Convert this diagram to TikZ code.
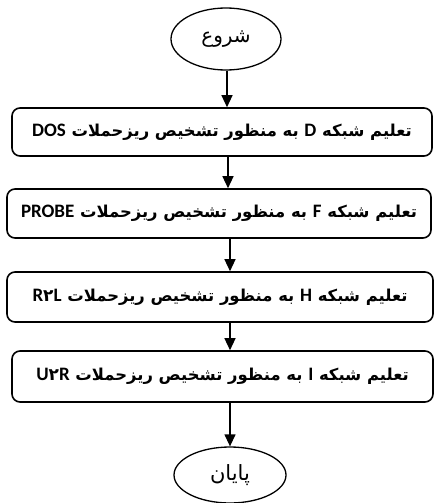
\documentclass[tikz,border=0pt]{standalone}
\usepackage{fontspec}
\usetikzlibrary{arrows.meta,shapes.geometric}
\TeXXeTstate=1
\newfontfamily\fa[Script=Arabic]{DejaVu Sans}
\newfontfamily\lat{Carlito}
\newcommand{\fatxt}[1]{\fa\beginR #1\endR}
\newcommand{\la}[1]{\beginL{\lat\bfseries\fontsize{19}{20}\selectfont #1}\endL}
\newcommand{\fdig}{{\fa\bfseries\fontsize{17}{18}\selectfont ۲}}
\tikzset{
  term/.style={draw, line width=1.3pt, ellipse, inner sep=0pt, font=\fontsize{20}{22}\selectfont},
  stepbox/.style={draw, line width=1.6pt, rounded corners=8pt, inner sep=0pt, font=\fontsize{16.4}{20}\selectfont\bfseries},
  arr/.style={line width=1.3pt, -{Triangle[width=11pt,length=12pt]}}
}
\begin{document}
\begin{tikzpicture}[x=1pt,y=-1pt]
\useasboundingbox (0,0) rectangle (434,503);
\node[term, minimum width=110pt, minimum height=62pt] (start) at (226,39) {\fatxt{شروع}};
\node[stepbox, minimum width=420pt, minimum height=48pt] (b1) at (222,132) {\fatxt{تعلیم شبکه \la{D} به منظور تشخیص ریزحملات \la{DOS}}};
\node[stepbox, minimum width=424pt, minimum height=49pt] (b2) at (219,213.5) {\fatxt{تعلیم شبکه \la{F} به منظور تشخیص ریزحملات \la{PROBE}}};
\node[stepbox, minimum width=426pt, minimum height=50pt] (b3) at (220,297) {\fatxt{تعلیم شبکه \la{H} به منظور تشخیص ریزحملات \beginL\la{R}\fdig\la{L}\endL}};
\node[stepbox, minimum width=421pt, minimum height=51pt] (b4) at (222.5,376.5) {\fatxt{تعلیم شبکه \la{I} به منظور تشخیص ریزحملات \beginL\la{U}\fdig\la{R}\endL}};
\node[term, minimum width=112pt, minimum height=56pt, font=\fontsize{21}{22}\selectfont] (end) at (230,475) {\fatxt{پایان}};
\coordinate (c1) at (227,0);
\coordinate (c2) at (228,0);
\coordinate (c3) at (230,0);
\draw[arr] (start.south -| c1) -- (b1.north -| c1);
\draw[arr] (b1.south -| c2) -- (b2.north -| c2);
\draw[arr] (b2.south -| c3) -- (b3.north -| c3);
\draw[arr] (b3.south -| c3) -- (b4.north -| c3);
\draw[arr] (b4.south -| c3) -- (end.north -| c3);
\end{tikzpicture}
\end{document}
